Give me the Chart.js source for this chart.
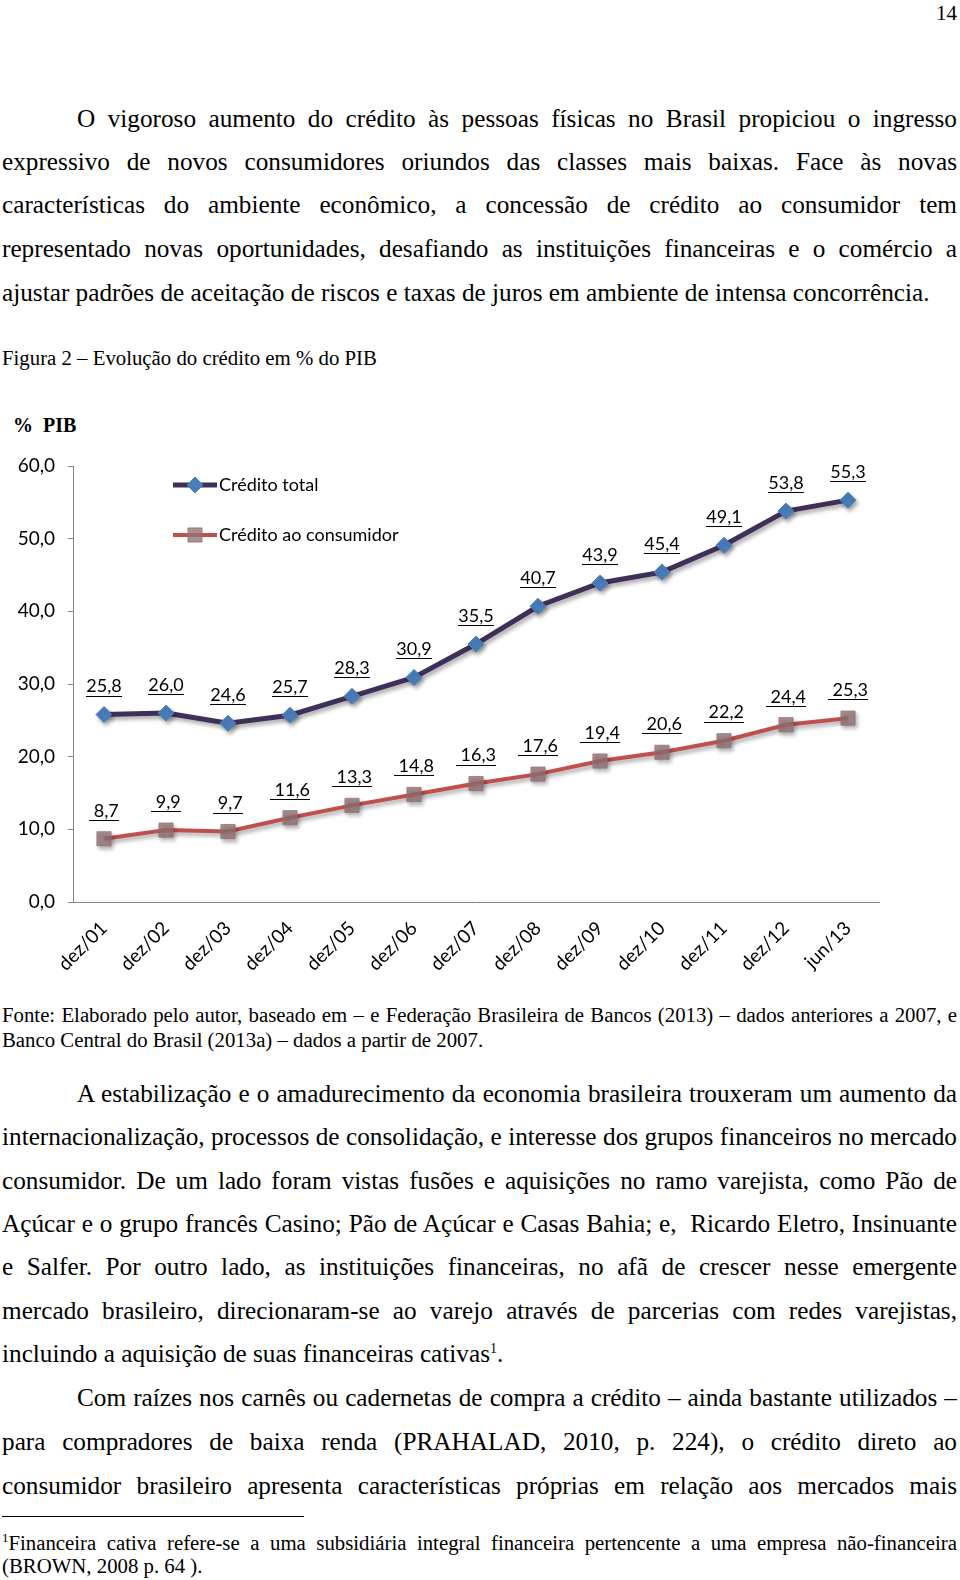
<!DOCTYPE html>
<html lang="pt">
<head>
<meta charset="utf-8">
<script src="https://cdn.jsdelivr.net/npm/chart.js@4.4.1/dist/chart.umd.min.js"></script>
<style>
  html, body { margin: 0; padding: 0; background: #fff; }
  #page { position: relative; width: 960px; height: 1580px; overflow: hidden; font-family: "Liberation Serif", "Times New Roman", serif; color: #000; }
  .ln { position: absolute; left: 2px; width: 955px; height: 30px; line-height: 30px; font-size: 25.25px; text-align: justify; text-align-last: justify; }
  .ln.first { left: 77px; width: 880px; }
  .ln.last { text-align-last: left; }
  .sm { font-size: 20.8px; height: 24px; line-height: 24px; }
  #pgno { position: absolute; right: 3px; top: 0px; line-height: 26px; font-size: 21px; }
  #chart-box { position: absolute; left: 0; top: 400px; width: 900px; height: 590px; }
  #pib { position: absolute; left: 13px; top: 414px; font-size: 20px; font-weight: bold; }
  #rule { position: absolute; left: 2px; top: 1516px; width: 302px; border-top: 1px solid #000; }
</style>
</head>
<body>
<div id="page">
  <div id="pgno">14</div>

  <div class="ln first" style="top:103px">O vigoroso aumento do crédito às pessoas físicas no Brasil propiciou o ingresso</div>
  <div class="ln" style="top:146px">expressivo de novos consumidores oriundos das classes mais baixas. Face às novas</div>
  <div class="ln" style="top:189px">características do ambiente econômico, a concessão de crédito ao consumidor tem</div>
  <div class="ln" style="top:233px">representado novas oportunidades, desafiando as instituições financeiras e o comércio a</div>
  <div class="ln last" style="top:277px">ajustar padrões de aceitação de riscos e taxas de juros em ambiente de intensa concorrência.</div>

  <div class="ln last sm" style="top:346px">Figura 2 – Evolução do crédito em % do PIB</div>

  <div id="pib">%&nbsp; PIB</div>
  <div id="chart-box"><canvas id="credito"></canvas></div>

  <div class="ln sm" style="top:1003px">Fonte: Elaborado pelo autor, baseado em – e Federação Brasileira de Bancos (2013) – dados anteriores a 2007, e</div>
  <div class="ln last sm" style="top:1028px">Banco Central do Brasil (2013a) – dados a partir de 2007.</div>

  <div class="ln first" style="top:1078px">A estabilização e o amadurecimento da economia brasileira trouxeram um aumento da</div>
  <div class="ln" style="top:1121px">internacionalização, processos de consolidação, e interesse dos grupos financeiros no mercado</div>
  <div class="ln" style="top:1165px">consumidor. De um lado foram vistas fusões e aquisições no ramo varejista, como Pão de</div>
  <div class="ln" style="top:1208px">Açúcar e o grupo francês Casino; Pão de Açúcar e Casas Bahia; e,&nbsp; Ricardo Eletro, Insinuante</div>
  <div class="ln" style="top:1251px">e Salfer. Por outro lado, as instituições financeiras, no afã de crescer nesse emergente</div>
  <div class="ln" style="top:1295px">mercado brasileiro, direcionaram-se ao varejo através de parcerias com redes varejistas,</div>
  <div class="ln last" style="top:1338px">incluindo a aquisição de suas financeiras cativas<sup style="font-size:14px; line-height:0;">1</sup>.</div>

  <div class="ln first" style="top:1382px">Com raízes nos carnês ou cadernetas de compra a crédito – ainda bastante utilizados –</div>
  <div class="ln" style="top:1426px">para compradores de baixa renda (PRAHALAD, 2010, p. 224), o crédito direto ao</div>
  <div class="ln" style="top:1470px">consumidor brasileiro apresenta características próprias em relação aos mercados mais</div>

  <div id="rule"></div>
  <div class="ln sm" style="top:1531px"><sup style="font-size:13px; line-height:0;">1</sup>Financeira cativa refere-se a uma subsidiária integral financeira pertencente a uma empresa não-financeira</div>
  <div class="ln last sm" style="top:1554px">(BROWN, 2008 p. 64 ).</div>
</div>

<script>
var periods = ['dez/01', 'dez/02', 'dez/03', 'dez/04', 'dez/05', 'dez/06', 'dez/07',
               'dez/08', 'dez/09', 'dez/10', 'dez/11', 'dez/12', 'jun/13'];
var creditoTotal = [25.8, 26.0, 24.6, 25.7, 28.3, 30.9, 35.5, 40.7, 43.9, 45.4, 49.1, 53.8, 55.3];
var creditoConsumidor = [8.7, 9.9, 9.7, 11.6, 13.3, 14.8, 16.3, 17.6, 19.4, 20.6, 22.2, 24.4, 25.3];
var yTicks = [0, 10, 20, 30, 40, 50, 60];

var FONT = 'Lato, "Open Sans", sans-serif';

function fmt(v) {
    return v.toFixed(1).replace('.', ',');
}

// soft drop shadow under the lines, like the Excel original
var shadowPlugin = {
    id: 'shadow',
    beforeDatasetsDraw: function (chart) {
        var ctx = chart.ctx;
        ctx.save();
        ctx.shadowColor = 'rgba(0,0,0,0.35)';
        ctx.shadowBlur = 4;
        ctx.shadowOffsetX = 2;
        ctx.shadowOffsetY = 3;
    },
    afterDatasetsDraw: function (chart) {
        chart.ctx.restore();
    }
};

// underlined value labels above each point
var labelPlugin = {
    id: 'valueLabels',
    afterDatasetsDraw: function (chart) {
        var ctx = chart.ctx;
        ctx.save();
        ctx.font = '18px ' + FONT;
        ctx.fillStyle = '#000';
        ctx.strokeStyle = '#000';
        ctx.lineWidth = 1;
        ctx.textAlign = 'center';
        ctx.textBaseline = 'middle';
        chart.data.datasets.forEach(function (ds, i) {
            chart.getDatasetMeta(i).data.forEach(function (pt, j) {
                var txt = (i === 1 ? ' ' : '') + fmt(ds.data[j]);
                var w = ctx.measureText(txt).width;
                var y = pt.y - 28;
                ctx.fillText(txt, pt.x, y);
                ctx.beginPath();
                ctx.moveTo(Math.round(pt.x - w / 2), Math.round(y + 9) + 0.5);
                ctx.lineTo(Math.round(pt.x + w / 2), Math.round(y + 9) + 0.5);
                ctx.stroke();
            });
        });
        ctx.restore();
    }
};

// legend placed inside the plot area, top left
var legendPlugin = {
    id: 'innerLegend',
    afterDraw: function (chart) {
        var ctx = chart.ctx;
        var rows = [85, 135];
        ctx.save();
        chart.data.datasets.forEach(function (ds, i) {
            var y = rows[i];
            ctx.strokeStyle = ds.borderColor;
            ctx.lineWidth = ds.borderWidth;
            ctx.beginPath();
            ctx.moveTo(173, y);
            ctx.lineTo(217, y);
            ctx.stroke();
            ctx.fillStyle = ds.pointBackgroundColor;
            ctx.strokeStyle = ds.pointBorderColor;
            ctx.lineWidth = 1;
            Chart.helpers.drawPoint(ctx, { pointStyle: ds.pointStyle, radius: ds.pointRadius, borderWidth: 1 }, 195, y);
            ctx.fillStyle = '#000';
            ctx.font = '18px ' + FONT;
            ctx.textAlign = 'left';
            ctx.textBaseline = 'middle';
            ctx.fillText(ds.label, 219, y);
        });
        ctx.restore();
    }
};

new Chart(document.getElementById('credito'), {
    type: 'line',
    data: {
        labels: periods,
        datasets: [{
            label: 'Crédito total',
            data: creditoTotal,
            borderColor: '#3E3058',
            borderWidth: 5,
            pointStyle: 'rectRot',
            pointRadius: 8,
            pointBackgroundColor: '#4A7EBB',
            pointBorderColor: '#4A7EBB',
            pointBorderWidth: 1,
            tension: 0
        }, {
            label: 'Crédito ao consumidor',
            data: creditoConsumidor,
            borderColor: '#C0504D',
            borderWidth: 4,
            pointStyle: 'rect',
            pointRadius: 10,
            pointBackgroundColor: 'rgba(150,115,118,0.8)',
            pointBorderColor: 'rgba(150,115,118,0.8)',
            pointBorderWidth: 1,
            tension: 0
        }]
    },
    options: {
        responsive: true,
        maintainAspectRatio: false,
        animation: false,
        layout: { padding: { top: 66, right: 21, left: 0, bottom: 0 } },
        plugins: {
            legend: { display: false },
            tooltip: { enabled: false }
        },
        scales: {
            x: {
                offset: true,
                afterFit: function (scale) { scale.height = 88; },
                grid: { display: false, drawTicks: false },
                border: { display: true, color: '#868686', width: 1 },
                ticks: {
                    color: '#000',
                    font: { family: FONT, size: 19 },
                    minRotation: 45,
                    maxRotation: 45,
                    padding: 15,
                    autoSkip: false
                }
            },
            y: {
                min: 0,
                max: 60,
                afterFit: function (scale) { scale.width = 73; },
                afterBuildTicks: function (scale) {
                    scale.ticks = yTicks.map(function (v) { return { value: v }; });
                },
                grid: { drawOnChartArea: false, drawTicks: true, tickLength: 5, color: '#868686' },
                border: { display: true, color: '#868686', width: 1 },
                ticks: {
                    color: '#000',
                    font: { family: FONT, size: 19 },
                    padding: 13,
                    callback: function (v) { return fmt(v); }
                }
            }
        }
    },
    plugins: [shadowPlugin, labelPlugin, legendPlugin]
});
</script>
</body>
</html>
